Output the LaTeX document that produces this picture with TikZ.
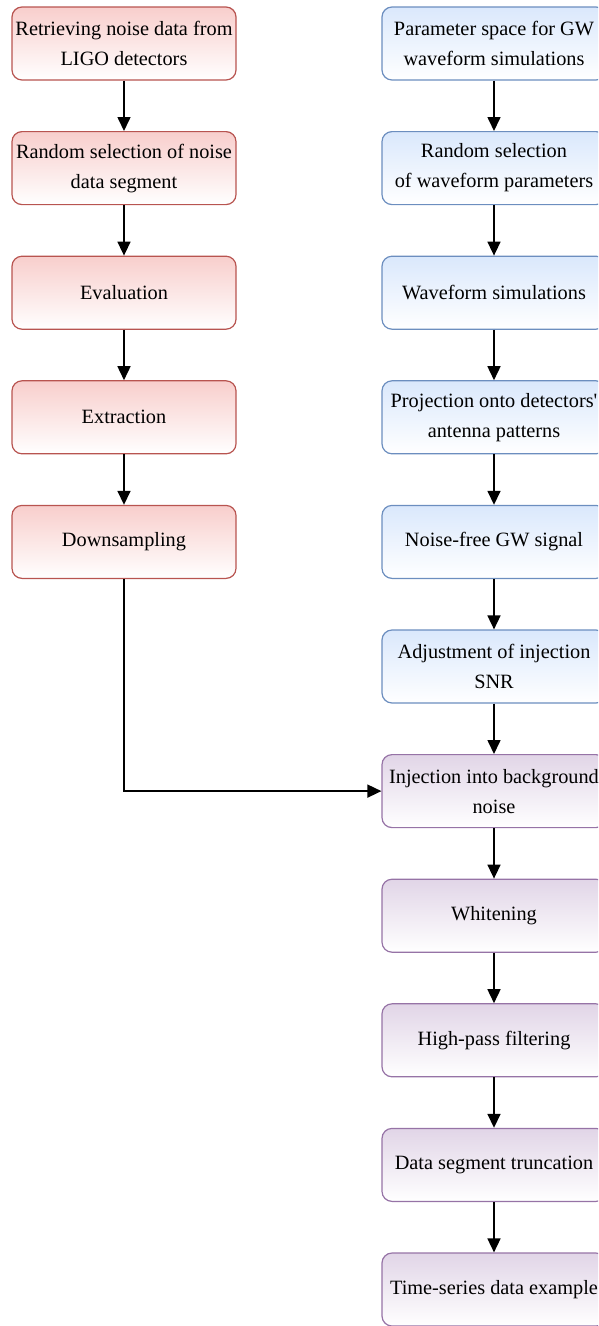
\documentclass[tikz,border=0pt]{standalone}
\usepackage{fontspec}
\setmainfont{Liberation Serif}
\usepackage{tikz}
\usetikzlibrary{positioning, arrows.meta}
\definecolor{noisefill}{HTML}{F8CECC}
\definecolor{noisedraw}{HTML}{B85450}
\definecolor{wavefill}{HTML}{DAE8FC}
\definecolor{wavedraw}{HTML}{6C8EBF}
\definecolor{injfill}{HTML}{E1D5E7}
\definecolor{injdraw}{HTML}{9673A6}

\begin{document}
\begin{tikzpicture}[x=1pt, y=-1pt, node distance=50.4pt,
	box/.style={rounded corners=10pt, line width=1.2pt, minimum width=224pt,
		minimum height=73pt, inner sep=1pt, align=center,
		font=\fontsize{20.3pt}{30pt}\selectfont},
	noisebox/.style={box, draw=noisedraw, top color=noisefill, bottom color=white},
	wavebox/.style={box, draw=wavedraw, top color=wavefill, bottom color=white},
	injbox/.style={box, draw=injdraw, top color=injfill, bottom color=white},
	flow/.style={-{Triangle[length=14pt, width=13pt]}, line width=1.6pt}]
	% Fix the page size
	\path[use as bounding box, clip] (0, 0) rectangle (598, 1326);
	
	% Noise data column
	\node[noisebox] (retrieve) at (124, 43.5) {Retrieving noise data from\\LIGO detectors};
	\node[noisebox, below=of retrieve] (noisesel) {Random selection of noise\\data segment};
	\node[noisebox, below=of noisesel] (evaluation) {Evaluation};
	\node[noisebox, below=of evaluation] (extraction) {Extraction};
	\node[noisebox, below=of extraction] (downsample) {Downsampling};
	
	% Waveform column
	\node[wavebox] (paramspace) at (494, 43.5) {Parameter space for GW\\waveform simulations};
	\node[wavebox, below=of paramspace] (paramsel) {Random selection\\of waveform parameters};
	\node[wavebox, below=of paramsel] (wavesim) {Waveform simulations};
	\node[wavebox, below=of wavesim] (projection) {Projection onto detectors\textquotesingle\\antenna patterns};
	\node[wavebox, below=of projection] (signal) {Noise-free GW signal};
	\node[wavebox, below=of signal] (snr) {Adjustment of injection\\SNR};
	
	% Injection and processing
	\node[injbox, below=of snr] (injection) {Injection into background\\noise};
	\node[injbox, below=of injection] (whitening) {Whitening};
	\node[injbox, below=of whitening] (highpass) {High-pass filtering};
	\node[injbox, below=of highpass] (truncation) {Data segment truncation};
	\node[injbox, below=of truncation] (example) {Time-series data example};
	
	% Arrows
	\foreach \a/\b in {retrieve/noisesel, noisesel/evaluation, evaluation/extraction,
		extraction/downsample, paramspace/paramsel, paramsel/wavesim, wavesim/projection,
		projection/signal, signal/snr, snr/injection, injection/whitening,
		whitening/highpass, highpass/truncation, truncation/example}
	\draw[flow] (\a) -- (\b);
	\draw[flow] (downsample.south) |- (injection.west);
\end{tikzpicture}
\end{document}
